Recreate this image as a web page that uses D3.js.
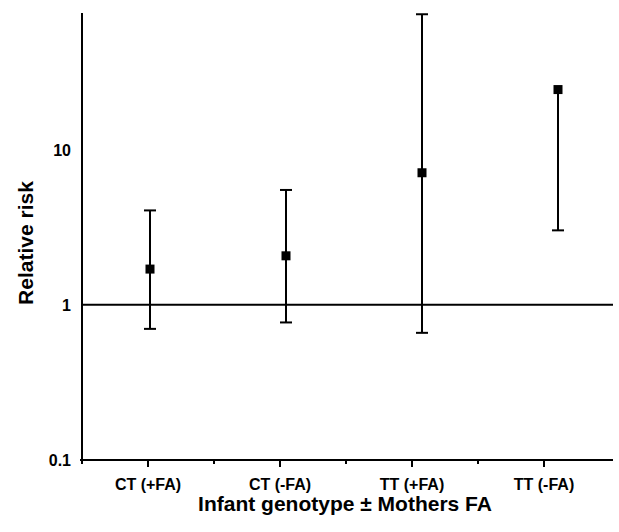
<!DOCTYPE html>
<html>
<head>
<meta charset="utf-8">
<script src="https://cdn.jsdelivr.net/npm/d3@7"></script>
<style>
  body { margin: 0; background: #fff; }
  text { font-family: "Liberation Sans", Arial, sans-serif; font-weight: bold; fill: #000; }
</style>
</head>
<body>
<svg width="619" height="532"></svg>
<script>
// Data
let categories = ["CT (+FA)", "CT (-FA)", "TT (+FA)", "TT (-FA)"];
let riskValues = [1.70, 2.07, 7.1, 24.4];
let lowerCI = [0.70, 0.77, 0.66, 3.02];
let upperCI = [4.06, 5.5, 74.6, 24.4];
let yTicks = [0.1, 1, 10];

let svg = d3.select("svg");

// Scales
let x = d3.scaleBand()
    .domain(categories)
    .range([82, 610]);
// the markers sit a little right of the tick marks in the original
let xPoint = d3.scalePoint()
    .domain(categories)
    .range([150, 558]);
let y = d3.scaleLog()
    .domain([0.1, 76])
    .range([460, 13]);

let rows = categories.map((c, i) => ({c: c, v: riskValues[i], lo: lowerCI[i], hi: upperCI[i]}));

// Axes
svg.append("line")
    .attr("x1", x.range()[0]).attr("x2", x.range()[0])
    .attr("y1", y.range()[1]).attr("y2", y.range()[0] + 1)
    .attr("stroke", "#000").attr("stroke-width", 2);
svg.append("line")
    .attr("x1", x.range()[0] - 2).attr("x2", 613)
    .attr("y1", y(0.1)).attr("y2", y(0.1))
    .attr("stroke", "#000").attr("stroke-width", 2);

// reference line at RR = 1
svg.append("line")
    .attr("x1", x.range()[0]).attr("x2", 613)
    .attr("y1", y(1)).attr("y2", y(1))
    .attr("stroke", "#000").attr("stroke-width", 2);

// x ticks
let edges = categories.map(c => x(c));
svg.selectAll(".minor").data(edges).join("line")
    .attr("x1", d => d).attr("x2", d => d)
    .attr("y1", y(0.1)).attr("y2", y(0.1) + 4)
    .attr("stroke", "#000").attr("stroke-width", 2);
svg.selectAll(".major").data(categories).join("line")
    .attr("x1", d => x(d) + x.bandwidth() / 2).attr("x2", d => x(d) + x.bandwidth() / 2)
    .attr("y1", y(0.1)).attr("y2", y(0.1) + 7)
    .attr("stroke", "#000").attr("stroke-width", 2);
svg.selectAll(".xlab").data(categories).join("text")
    .attr("x", d => x(d) + x.bandwidth() / 2)
    .attr("y", 490)
    .attr("text-anchor", "middle")
    .attr("font-size", 16)
    .text(d => d);

// y tick labels
svg.selectAll(".ylab").data(yTicks).join("text")
    .attr("x", 71)
    .attr("y", d => y(d) + 6)
    .attr("text-anchor", "end")
    .attr("font-size", 16)
    .text(d => d);

// Titles
svg.append("text")
    .attr("transform", "translate(33,243) rotate(-90)")
    .attr("text-anchor", "middle")
    .attr("font-size", 21)
    .text("Relative risk");
svg.append("text")
    .attr("x", 345).attr("y", 511)
    .attr("text-anchor", "middle")
    .attr("font-size", 21)
    .text("Infant genotype \u00b1 Mothers FA");

// Error bars
let bars = svg.selectAll(".bar").data(rows).join("g");
bars.append("line")
    .attr("x1", d => xPoint(d.c)).attr("x2", d => xPoint(d.c))
    .attr("y1", d => y(d.lo)).attr("y2", d => y(d.hi))
    .attr("stroke", "#000").attr("stroke-width", 2);
bars.append("line")
    .attr("x1", d => xPoint(d.c) - 6).attr("x2", d => xPoint(d.c) + 6)
    .attr("y1", d => y(d.lo)).attr("y2", d => y(d.lo))
    .attr("stroke", "#000").attr("stroke-width", 2);
bars.filter(d => d.hi > d.v).append("line")
    .attr("x1", d => xPoint(d.c) - 6).attr("x2", d => xPoint(d.c) + 6)
    .attr("y1", d => y(d.hi)).attr("y2", d => y(d.hi))
    .attr("stroke", "#000").attr("stroke-width", 2);
bars.append("rect")
    .attr("x", d => xPoint(d.c) - 4.5).attr("y", d => y(d.v) - 4.5)
    .attr("width", 9).attr("height", 9)
    .attr("fill", "#000");
</script>
</body>
</html>
